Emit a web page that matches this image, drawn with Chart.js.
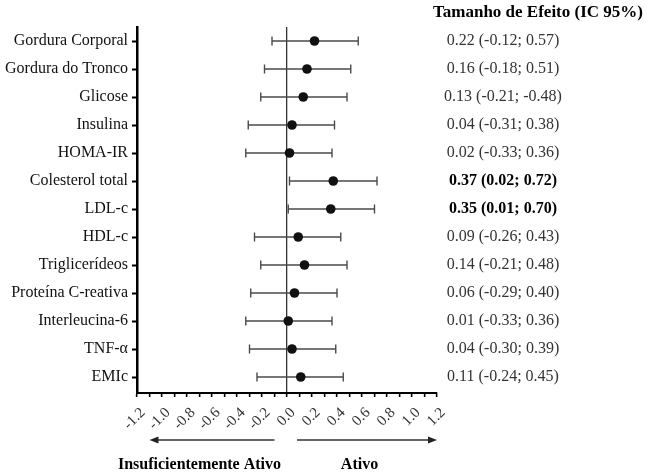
<!DOCTYPE html>
<html>
<head>
<meta charset="utf-8">
<script src="https://cdn.jsdelivr.net/npm/chart.js@4"></script>
<style>
html,body{margin:0;padding:0;background:#fff;}
#wrap{width:651px;height:475px;position:relative;}
</style>
</head>
<body>
<div id="wrap"><canvas id="c" width="651" height="475"></canvas></div>
<script>
const categories = ['Gordura Corporal','Gordura do Tronco','Glicose','Insulina','HOMA-IR','Colesterol total','LDL-c','HDL-c','Triglicerídeos','Proteína C-reativa','Interleucina-6','TNF-α','EMIc'];
const effect = [0.22,0.16,0.13,0.04,0.02,0.37,0.35,0.09,0.14,0.06,0.01,0.04,0.11];
const lower  = [-0.12,-0.18,-0.21,-0.31,-0.33,0.02,0.01,-0.26,-0.21,-0.29,-0.33,-0.30,-0.24];
const upper  = [0.57,0.51,0.48,0.38,0.36,0.72,0.70,0.43,0.48,0.40,0.36,0.39,0.45];
const ciLabels = ['0.22 (-0.12; 0.57)','0.16 (-0.18; 0.51)','0.13 (-0.21; -0.48)','0.04 (-0.31; 0.38)','0.02 (-0.33; 0.36)','0.37 (0.02; 0.72)','0.35 (0.01; 0.70)','0.09 (-0.26; 0.43)','0.14 (-0.21; 0.48)','0.06 (-0.29; 0.40)','0.01 (-0.33; 0.36)','0.04 (-0.30; 0.39)','0.11 (-0.24; 0.45)'];
const significant = [false,false,false,false,false,true,true,false,false,false,false,false,false];
const xTickMin = -1.2, xTickMax = 1.2, xTickStep = 0.1;
const columnTitle = 'Tamanho de Efeito (IC 95%)';
const leftLabel = 'Insuficientemente Ativo';
const rightLabel = 'Ativo';

const SERIF = '"Liberation Serif", "Times New Roman", serif';

const pointData = effect.map((v,i)=>({x:v,y:i}));
const capData = [];
lower.forEach((v,i)=>{capData.push({x:v,y:i}); capData.push({x:upper[i],y:i});});

const extras = {
  id:'extras',
  beforeDatasetsDraw(chart){
    const ctx = chart.ctx, xs = chart.scales.x, ys = chart.scales.y;
    ctx.save();
    ctx.strokeStyle = '#4a4a4a';
    ctx.lineWidth = 1.4;
    categories.forEach((c,i)=>{
      const y = ys.getPixelForValue(i);
      ctx.beginPath();
      ctx.moveTo(xs.getPixelForValue(lower[i]), y);
      ctx.lineTo(xs.getPixelForValue(upper[i]), y);
      ctx.stroke();
    });
    ctx.restore();
  },
  afterDraw(chart){
    const ctx = chart.ctx, xs = chart.scales.x, ys = chart.scales.y;
    ctx.save();
    ctx.textAlign = 'center';
    ctx.textBaseline = 'middle';
    ctx.fillStyle = '#000';
    ctx.font = 'bold 17px ' + SERIF;
    ctx.fillText(columnTitle, 538, 13);
    categories.forEach((c,i)=>{
      const y = ys.getPixelForValue(i);
      if (significant[i]) { ctx.font = 'bold 16px ' + SERIF; ctx.fillStyle = '#000'; }
      else { ctx.font = '16px ' + SERIF; ctx.fillStyle = '#333'; }
      ctx.fillText(ciLabels[i], 503, y);
    });
    const ay = 440;
    ctx.strokeStyle = '#333';
    ctx.fillStyle = '#222';
    ctx.lineWidth = 1.4;
    const l1 = xs.getPixelForValue(-1.1), l2 = xs.getPixelForValue(-0.1);
    const r1 = xs.getPixelForValue(0.08), r2 = xs.getPixelForValue(1.2);
    ctx.beginPath(); ctx.moveTo(l1+6, ay); ctx.lineTo(l2, ay); ctx.stroke();
    ctx.beginPath(); ctx.moveTo(l1, ay); ctx.lineTo(l1+9, ay-3.5); ctx.lineTo(l1+9, ay+3.5); ctx.closePath(); ctx.fill();
    ctx.beginPath(); ctx.moveTo(r1, ay); ctx.lineTo(r2-6, ay); ctx.stroke();
    ctx.beginPath(); ctx.moveTo(r2, ay); ctx.lineTo(r2-9, ay-3.5); ctx.lineTo(r2-9, ay+3.5); ctx.closePath(); ctx.fill();
    ctx.fillStyle = '#000';
    ctx.font = 'bold 16px ' + SERIF;
    ctx.textBaseline = 'alphabetic';
    ctx.fillText(leftLabel, xs.getPixelForValue(-0.7), 469);
    ctx.fillText(rightLabel, xs.getPixelForValue(0.58), 469);
    ctx.restore();
  }
};

new Chart(document.getElementById('c'), {
  type:'scatter',
  data:{
    datasets:[
      {label:'caps', data:capData, pointStyle:'line', rotation:90, radius:4.5, borderColor:'#4a4a4a', borderWidth:1.4, backgroundColor:'#4a4a4a'},
      {label:'effect', data:pointData, pointStyle:'circle', radius:4.8, backgroundColor:'#111', borderColor:'#111', borderWidth:0}
    ]
  },
  options:{
    responsive:false,
    animation:false,
    events:[],
    layout:{padding:{left:0,right:214,top:27,bottom:0}},
    plugins:{legend:{display:false}, tooltip:{enabled:false}},
    scales:{
      x:{
        type:'linear', min:xTickMin, max:xTickMax,
        afterBuildTicks(scale){
          const t=[]; const n=Math.round((xTickMax-xTickMin)/xTickStep);
          for(let k=0;k<=n;k++){ t.push({value: Math.round((xTickMin+k*xTickStep)*10)/10}); }
          scale.ticks=t;
        },
        afterFit(scale){ scale.height = 82; },
        border:{display:true, color:'#000', width:2},
        grid:{
          drawOnChartArea:true,
          color:(c)=> (c.tick && Math.abs(c.tick.value)<1e-9) ? '#333' : 'rgba(0,0,0,0)',
          lineWidth:1.3,
          drawTicks:true, tickLength:4, tickColor:'#000', tickWidth:1.6
        },
        ticks:{
          autoSkip:false, minRotation:45, maxRotation:45, padding:7, labelOffset:6,
          color:'#333',
          font:{family:SERIF, size:15},
          callback:(v)=>{ const k=Math.round(v*10); if (k%2!==0) return ''; return (Math.abs(v)<1e-9?0:v).toFixed(1); }
        }
      },
      y:{
        type:'linear', reverse:true, min:-0.5, max:12.571,
        afterBuildTicks(scale){ scale.ticks = categories.map((c,i)=>({value:i})); },
        afterFit(scale){ scale.width = 137; },
        border:{display:true, color:'#000', width:2.5},
        grid:{drawOnChartArea:false, drawTicks:true, tickLength:5, tickColor:'#000', tickWidth:2},
        ticks:{
          autoSkip:false, padding:4, color:'#111',
          font:{family:SERIF, size:16},
          callback:(v)=> categories[v] ?? ''
        }
      }
    }
  },
  plugins:[extras]
});
</script>
</body>
</html>
